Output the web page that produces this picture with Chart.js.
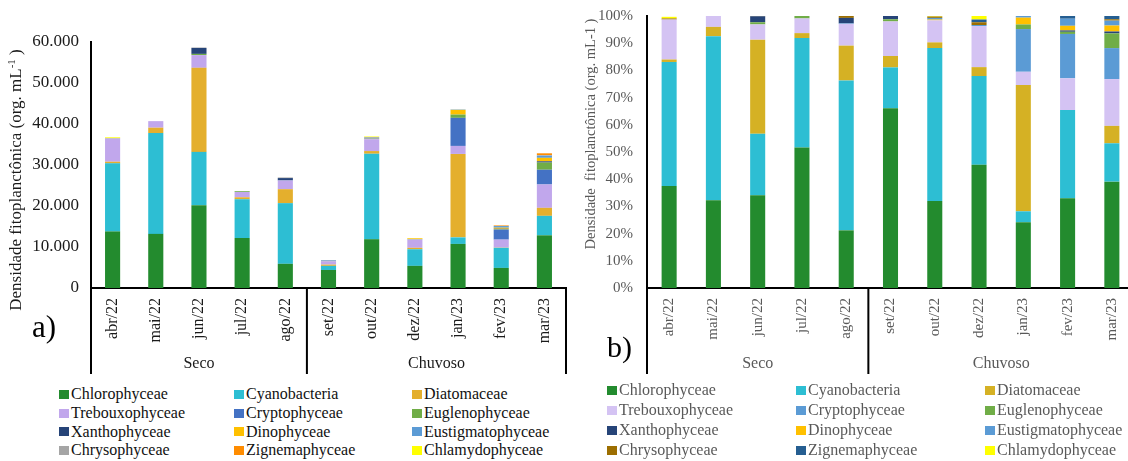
<!DOCTYPE html>
<html><head><meta charset="utf-8">
<script src="https://cdn.jsdelivr.net/npm/chart.js@4"></script>
<style>
html,body{margin:0;padding:0;background:#fff;overflow:hidden;width:1128px;height:461px;}
#wrap{position:relative;width:1128px;height:461px;overflow:hidden;}
canvas{position:absolute;top:0;}
.legend{position:absolute;display:grid;font-family:"Liberation Serif","Times New Roman",serif;font-size:16px;}
.item{display:flex;align-items:center;white-space:nowrap;}
.sw{width:10px;height:9px;margin-right:2px;flex:none;}
</style>
</head><body>
<div id="wrap">
<canvas id="cA" width="570" height="385" style="left:0px"></canvas>
<canvas id="cB" width="576" height="385" style="left:560px"></canvas>
<div id="legA" class="legend" style="left:59px;top:385px;grid-template-columns:175px 178px 200px;grid-auto-rows:18.7px;color:#111;"></div>
<div id="legB" class="legend" style="left:607px;top:380px;grid-template-columns:189px 189px 160px;grid-auto-rows:20px;color:#595959;"></div>
</div>
<script>
// ---------- categories and groups ----------
const categories = ['abr/22','mai/22','jun/22','jul/22','ago/22','set/22','out/22','dez/22','jan/23','fev/23','mar/23'];
const groupLabels = ['Seco','Chuvoso'];
const groupSizes = [5, 6];
const seriesNames = ['Chlorophyceae','Cyanobacteria','Diatomaceae','Trebouxophyceae','Cryptophyceae','Euglenophyceae','Xanthophyceae','Dinophyceae','Eustigmatophyceae','Chrysophyceae','Zignemaphyceae','Chlamydophyceae'];

// ---------- a) density (org. mL-1) ----------
const absChlorophyceae     = [13800, 13200, 20200, 12200, 5900, 4400, 11900, 5400, 10750, 4900, 12850];
const absCyanobacteria     = [16600, 24600, 13000, 9450, 14800, 1000, 20850, 4050, 1600, 4900, 4750];
const absDiatomaceae       = [400, 1300, 20500, 480, 3400, 300, 650, 350, 20350, 50, 1950];
const absTrebouxophyceae   = [5600, 1600, 3100, 1300, 2100, 800, 2900, 1950, 1950, 1950, 5700];
const absCryptophyceae     = [0, 0, 0, 0, 60, 0, 0, 0, 6850, 2450, 3600];
const absEuglenophyceae    = [0, 0, 300, 200, 0, 50, 0, 0, 800, 120, 1750];
const absXanthophyceae     = [0, 0, 1450, 0, 550, 80, 0, 0, 0, 80, 300];
const absDinophyceae       = [0, 0, 0, 0, 0, 0, 100, 0, 1150, 260, 850];
const absEustigmatophyceae = [0, 0, 0, 0, 0, 100, 200, 50, 100, 400, 500];
const absChrysophyceae     = [150, 0, 100, 0, 150, 60, 200, 120, 0, 0, 150];
const absZignemaphyceae    = [0, 0, 0, 0, 0, 0, 0, 120, 0, 150, 450];
const absChlamydophyceae   = [200, 0, 0, 0, 0, 0, 150, 150, 0, 0, 0];

// ---------- b) relative (%) ----------
const pctChlorophyceae     = [37.5, 32.3, 34.1, 51.7, 21.2, 66.1, 32.0, 45.3, 24.2, 33.0, 39.1];
const pctCyanobacteria     = [45.6, 60.3, 22.6, 40.2, 55.1, 15.0, 56.2, 32.6, 4.0, 32.4, 14.1];
const pctDiatomaceae       = [0.9, 3.4, 34.6, 1.8, 12.8, 4.2, 2.1, 3.3, 46.4, 0, 6.4];
const pctTrebouxophyceae   = [14.7, 4.0, 5.6, 5.4, 8.0, 12.7, 8.1, 15.1, 4.9, 11.7, 17.2];
const pctCryptophyceae     = [0, 0, 0, 0, 0.2, 0, 0, 0, 15.7, 16.3, 11.4];
const pctEuglenophyceae    = [0, 0, 0.8, 0.9, 0, 0.8, 0, 0, 1.7, 0.8, 5.4];
const pctXanthophyceae     = [0, 0, 2.2, 0, 2.0, 1.2, 0, 0, 0, 0.5, 0.7];
const pctDinophyceae       = [0, 0, 0, 0, 0, 0, 0.3, 0, 2.5, 1.7, 2.2];
const pctEustigmatophyceae = [0, 0, 0, 0, 0, 0, 0.6, 0.4, 0.6, 2.6, 1.8];
const pctChrysophyceae     = [0.4, 0, 0.1, 0, 0.7, 0, 0.5, 1.0, 0, 0, 0.5];
const pctZignemaphyceae    = [0, 0, 0, 0, 0, 0, 0, 1.0, 0, 1.0, 1.2];
const pctChlamydophyceae   = [0.6, 0, 0, 0, 0, 0, 0.3, 1.3, 0, 0, 0];

// ---------- y tick labels ----------
const ticksA = ['0','10.000','20.000','30.000','40.000','50.000','60.000'];
const ticksB = ['0%','10%','20%','30%','40%','50%','60%','70%','80%','90%','100%'];

const absSeries = [absChlorophyceae,absCyanobacteria,absDiatomaceae,absTrebouxophyceae,absCryptophyceae,absEuglenophyceae,absXanthophyceae,absDinophyceae,absEustigmatophyceae,absChrysophyceae,absZignemaphyceae,absChlamydophyceae];
const pctSeries = [pctChlorophyceae,pctCyanobacteria,pctDiatomaceae,pctTrebouxophyceae,pctCryptophyceae,pctEuglenophyceae,pctXanthophyceae,pctDinophyceae,pctEustigmatophyceae,pctChrysophyceae,pctZignemaphyceae,pctChlamydophyceae];

const colorsA = ['#238B2E','#2DBED3','#E4AF2D','#C1A7EC','#4472C4','#70AD47','#264478','#FFC000','#5B9BD5','#A5A5A5','#FF8C00','#FFFF00'];
const colorsB = ['#238B2E','#2DBED3','#D5B124','#D4C3F3','#5B9BD5','#70AD47','#264478','#FFC000','#5B9BD5','#9C6E00','#255E91','#FFFF00'];

const SERIF = '"Liberation Serif","Times New Roman",serif';

const deco = {
  id: 'deco',
  afterDraw(chart, args, o) {
    const ctx = chart.ctx, xs = chart.scales.x, a = chart.chartArea;
    ctx.save();
    ctx.strokeStyle = '#000'; ctx.lineWidth = 2;
    const seps = [a.left];
    let idx = 0;
    for (let g = 0; g < groupSizes.length - 1; g++) {
      idx += groupSizes[g];
      seps.push((xs.getPixelForValue(idx - 1) + xs.getPixelForValue(idx)) / 2);
    }
    seps.push(a.right);
    ctx.beginPath();
    seps.forEach(px => { ctx.moveTo(px, a.bottom); ctx.lineTo(px, o.sepBottom); });
    ctx.stroke();
    ctx.fillStyle = o.color; ctx.font = o.groupFont;
    ctx.textAlign = 'center'; ctx.textBaseline = 'middle';
    for (let g = 0; g < groupLabels.length; g++) {
      ctx.fillText(groupLabels[g], (seps[g] + seps[g + 1]) / 2, o.groupY);
    }
    ctx.fillStyle = '#000'; ctx.font = o.panelFont;
    ctx.textAlign = 'left'; ctx.textBaseline = 'alphabetic';
    ctx.fillText(o.panel, o.panelX, o.panelY);
    // rotated y title
    ctx.translate(o.titleX, o.titleY);
    ctx.rotate(-Math.PI / 2);
    ctx.fillStyle = o.color;
    const parts = o.titleParts;
    let total = 0;
    parts.forEach(p => { ctx.font = p.sup ? o.supFont : o.titleFont; total += ctx.measureText(p.t).width; });
    let cx = -total / 2;
    ctx.textBaseline = 'middle';
    parts.forEach(p => {
      ctx.font = p.sup ? o.supFont : o.titleFont;
      ctx.fillText(p.t, cx, p.sup ? -5 : 0);
      cx += ctx.measureText(p.t).width;
    });
    ctx.restore();
  }
};

function makeChart(id, series, colors, opt) {
  const datasets = series.map((d, i) => ({
    label: seriesNames[i], data: d, backgroundColor: colors[i],
    borderWidth: 0, categoryPercentage: 1, barPercentage: opt.barPct
  }));
  return new Chart(document.getElementById(id), {
    type: 'bar',
    data: { labels: categories, datasets },
    plugins: [deco],
    options: {
      responsive: false, animation: false,
      layout: { padding: { top: opt.padTop, right: opt.padRight, left: 0, bottom: 0 } },
      plugins: { legend: { display: false }, tooltip: { enabled: false }, deco: opt.deco },
      scales: {
        x: {
          stacked: true,
          grid: { display: false, drawTicks: false },
          border: { display: true, color: '#000', width: 2 },
          ticks: { color: opt.color, font: { family: SERIF, size: opt.xFont }, maxRotation: 90, minRotation: 90, padding: 10, autoSkip: false },
          afterFit: s => { s.height = 97; s.paddingLeft = 0; s.paddingRight = 0; }
        },
        y: {
          stacked: true, min: 0, max: opt.max,
          grid: { display: false, drawTicks: false },
          border: { display: true, color: '#000', width: 2 },
          ticks: { stepSize: opt.step, color: opt.color, padding: opt.tickPad, font: { family: SERIF, size: opt.yFont },
                   callback: (v, i) => opt.tickLabels[i] },
          afterFit: s => { s.width = opt.yWidth; s.paddingTop = 0; s.paddingBottom = 0; }
        }
      }
    }
  });
}

makeChart('cA', absSeries, colorsA, {
  barPct: 0.35, padTop: 42, padRight: 4, max: 60000, step: 10000, tickLabels: ticksA,
  color: '#1a1a1a', xFont: 16, yFont: 17, tickPad: 12, yWidth: 91,
  deco: { sepBottom: 374, color: '#1a1a1a', groupFont: '16px ' + SERIF, groupY: 364,
          panel: 'a)', panelFont: '31px ' + SERIF, panelX: 32, panelY: 337,
          titleX: 17, titleY: 180, titleFont: '17px ' + SERIF, supFont: '11px ' + SERIF,
          titleParts: [{t: 'Densidade fitoplanctônica (org. mL'}, {t: '-1', sup: true}, {t: ' )'}] }
});

makeChart('cB', pctSeries, colorsB, {
  barPct: 0.34, padTop: 16, padRight: 2, max: 100, step: 10, tickLabels: ticksB,
  color: '#595959', xFont: 15, yFont: 15, tickPad: 14, yWidth: 87,
  deco: { sepBottom: 374, color: '#595959', groupFont: '16px ' + SERIF, groupY: 364,
          panel: 'b)', panelFont: '30px ' + SERIF, panelX: 47, panelY: 357,
          titleX: 31, titleY: 134, titleFont: '14.5px ' + SERIF, supFont: '14.5px ' + SERIF,
          titleParts: [{t: 'Densidade  fitoplanctônica (org. mL-1 )'}] }
});

function buildLegend(id, colors) {
  const el = document.getElementById(id);
  seriesNames.forEach((n, i) => {
    const it = document.createElement('div'); it.className = 'item';
    const sw = document.createElement('span'); sw.className = 'sw'; sw.style.background = colors[i];
    const tx = document.createElement('span'); tx.textContent = n;
    it.appendChild(sw); it.appendChild(tx); el.appendChild(it);
  });
}
buildLegend('legA', colorsA);
buildLegend('legB', colorsB);
</script>
</body></html>
